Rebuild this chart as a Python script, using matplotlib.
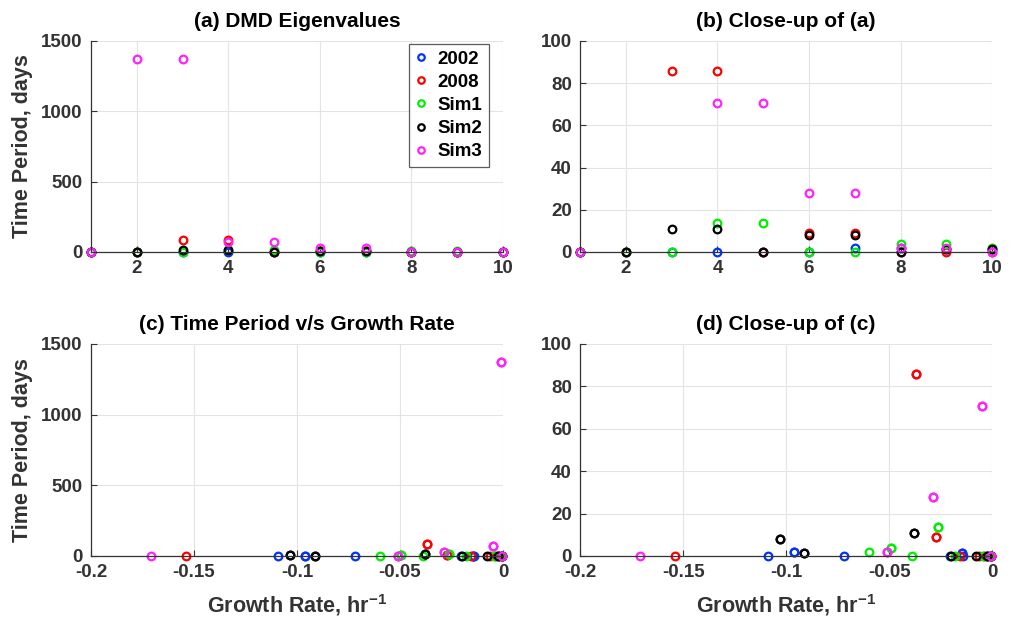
import matplotlib
matplotlib.use("Agg")
import matplotlib.pyplot as plt

plt.rcParams['font.family'] = ['Liberation Sans', 'DejaVu Sans']
plt.rcParams['font.weight'] = 'bold'
plt.rcParams['axes.labelweight'] = 'bold'
plt.rcParams['axes.titleweight'] = 'bold'
plt.rcParams['mathtext.fontset'] = 'custom'
plt.rcParams['mathtext.rm'] = 'Liberation Sans:bold'
plt.rcParams['mathtext.bf'] = 'Liberation Sans:bold'

# eigenvalue index
idx = [1, 2, 3, 4, 5, 6, 7, 8, 9, 10]

# time period (days) of each DMD eigenvalue
period_2002 = [0, 0, 0, 0, 0, 0, 1.9, 1.9, 1.4, 1.4]
period_2008 = [0, 0, 86, 86, 0, 9.1, 9.1, 0, 0, 0]
period_sim1 = [0, 0, 0, 13.7, 13.7, 0, 0, 3.6, 3.6, 2.0]
period_sim2 = [0, 0, 11, 11, 0, 8.0, 8.0, 0, 1.3, 1.3]
period_sim3 = [0, 1370, 1370, 70.8, 70.8, 28, 28, 1.8, 1.8, 0]

# growth rate (1/hr) of each DMD eigenvalue
growth_2002 = [-0.0005, -0.0025, -0.0206, -0.109, -0.0718, -0.014, -0.096, -0.096, -0.0146, -0.0146]
growth_2008 = [-0.0005, -0.0063, -0.037, -0.037, -0.0155, -0.0274, -0.0274, -0.002, -0.154, -0.004]
growth_sim1 = [-0.0005, -0.001, -0.0387, -0.0264, -0.0264, -0.018, -0.0044, -0.0493, -0.0493, -0.0598]
growth_sim2 = [-0.0005, -0.0198, -0.0379, -0.0379, -0.0079, -0.1032, -0.1032, -0.0025, -0.0914, -0.0914]
growth_sim3 = [-0.0005, -0.001, -0.001, -0.0048, -0.0048, -0.0287, -0.0287, -0.0509, -0.0509, -0.171]

names = ['2002', '2008', 'Sim1', 'Sim2', 'Sim3']
colors = ['#0033ff', '#ff0000', '#00ee00', '#000000', '#ff22ff']
periods = [period_2002, period_2008, period_sim1, period_sim2, period_sim3]
growths = [growth_2002, growth_2008, growth_sim1, growth_sim2, growth_sim3]

fig = plt.figure(figsize=(10.16, 6.17), dpi=100)
w, h = 0.4055, 0.342
ax_a = fig.add_axes([0.0896, 0.5916, w, h])
ax_b = fig.add_axes([0.571, 0.5916, w, h])
ax_c = fig.add_axes([0.0896, 0.0989, w, 0.3436])
ax_d = fig.add_axes([0.571, 0.0989, w, 0.3436])


def style(ax):
    ax.grid(True, color='#e4e4e4', linewidth=0.8)
    ax.set_axisbelow(True)
    for s in ['top', 'right']:
        ax.spines[s].set_visible(False)
    for s in ['left', 'bottom']:
        ax.spines[s].set_color('#333333')
        ax.spines[s].set_linewidth(0.9)
    ax.tick_params(direction='in', length=4, width=0.8, colors='#333333',
                   labelsize=13.5, labelcolor='#333333', pad=6)
    for lab in ax.get_xticklabels() + ax.get_yticklabels():
        lab.set_fontweight('bold')


def scatter(ax, xs_list):
    for xs, ys, c, n in zip(xs_list, periods, colors, names):
        ax.plot(xs, ys, 'o', ls='none', mfc='none', mec=c, ms=5.5, mew=1.6,
                label=n, clip_on=False)


# (a) and (b): period against eigenvalue index
for ax in (ax_a, ax_b):
    scatter(ax, [idx] * 5)
    ax.set_xlim(1, 10)
    ax.set_xticks([2, 4, 6, 8, 10])
ax_a.set_ylim(0, 1500)
ax_a.set_yticks([0, 500, 1000, 1500])
ax_b.set_ylim(0, 100)
ax_b.set_yticks([0, 20, 40, 60, 80, 100])

# (c) and (d): period against growth rate
for ax in (ax_c, ax_d):
    scatter(ax, growths)
    ax.set_xlim(-0.2, 0)
    ax.set_xticks([-0.2, -0.15, -0.1, -0.05, 0])
    ax.set_xticklabels(['-0.2', '-0.15', '-0.1', '-0.05', '0'])
    ax.set_xlabel('Growth Rate, hr$^{\\mathbf{-1}}$', fontsize=15.5,
                  color='#333333', labelpad=8)
ax_c.set_ylim(0, 1500)
ax_c.set_yticks([0, 500, 1000, 1500])
ax_d.set_ylim(0, 100)
ax_d.set_yticks([0, 20, 40, 60, 80, 100])

for ax in (ax_a, ax_c):
    ax.set_ylabel('Time Period, days', fontsize=15.5, color='#333333', labelpad=6)

titles = ['(a) DMD Eigenvalues', '(b) Close-up of (a)',
          '(c) Time Period v/s Growth Rate', '(d) Close-up of (c)']
for ax, t in zip((ax_a, ax_b, ax_c, ax_d), titles):
    ax.set_title(t, fontsize=15, pad=10)
    style(ax)

leg = ax_a.legend(loc='upper right', fontsize=13.5, frameon=True, fancybox=False,
                  handletextpad=0.55, handlelength=0.6, borderpad=0.35,
                  labelspacing=0.32, markerscale=0.85,
                  bbox_to_anchor=(0.988, 1.03))
leg.get_frame().set_edgecolor('#333333')
leg.get_frame().set_linewidth(0.9)
for t in leg.get_texts():
    t.set_fontweight('bold')

fig.savefig('out.png', dpi=100, facecolor='white')
